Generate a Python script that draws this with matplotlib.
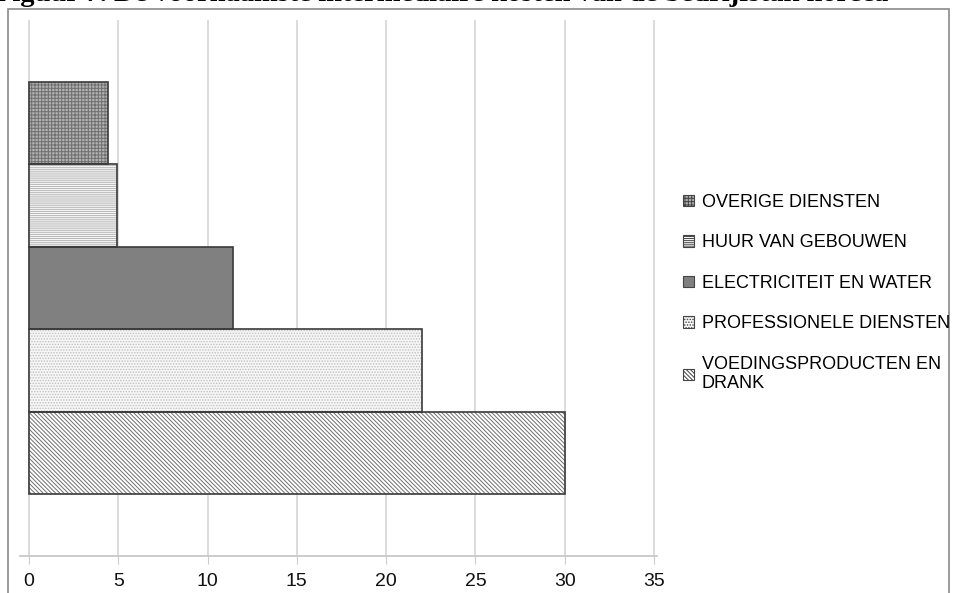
import matplotlib
matplotlib.use("Agg")
import matplotlib.pyplot as plt
from matplotlib.patches import Rectangle, Patch

categories = ["VOEDINGSPRODUCTEN EN\nDRANK", "PROFESSIONELE DIENSTEN",
              "ELECTRICITEIT EN WATER", "HUUR VAN GEBOUWEN", "OVERIGE DIENSTEN"]
values = [30.0, 22.0, 11.4, 4.95, 4.4]
x_ticks = [0, 5, 10, 15, 20, 25, 30, 35]

faces = ["white", "#f6f6f6", "#808080", "#f8f8f8", "#b0b0b0"]
hatches = ["\\" * 8, "." * 6, None, "-" * 8, "+" * 5]
hatch_cols = ["#707070", "#c0c0c0", "#808080", "#b4b4b4", "#707070"]

plt.rcParams["font.family"] = ["Liberation Sans", "DejaVu Sans"]
plt.rcParams["hatch.linewidth"] = 0.7

W, H = 954, 593
fig = plt.figure(figsize=(W / 100, H / 100), dpi=100)
ax = fig.add_axes([20 / W, (H - 556) / H, (657 - 20) / W, (556 - 20) / H])

for i, (v, fc, hc, hcol) in enumerate(zip(values, faces, hatches, hatch_cols)):
    ax.barh(i, v, height=1.0, color=fc, edgecolor=hcol, hatch=hc, linewidth=0, zorder=2)
    ax.barh(i, v, height=1.0, fill=False, edgecolor="#3a3a3a", linewidth=1.2, zorder=3)

ax.set_xlim(-0.5, 35.17)
ax.set_ylim(-1.25, 5.25)
ax.set_xticks(x_ticks)
ax.set_yticks([])
ax.tick_params(axis="x", length=6, color="#cccccc", labelsize=14, pad=6,
               labelcolor="#111111")
ax.grid(axis="x", color="#d6d6d6", linewidth=1.2, zorder=0)
for s in ["top", "right", "left"]:
    ax.spines[s].set_visible(False)
ax.spines["bottom"].set_color("#c4c4c4")
ax.spines["bottom"].set_linewidth(1.2)

handles = [Patch(facecolor=fc, edgecolor="#444444", hatch=hc, linewidth=0.8)
           for fc, hc in zip(faces, hatches)]
fig.legend(handles[::-1], categories[::-1], loc="upper left",
           bbox_to_anchor=(683 / W, 1 - 194 / H), frameon=False,
           fontsize=13, handlelength=0.6, handleheight=0.6,
           handletextpad=0.45, labelspacing=1.3, borderpad=0, borderaxespad=0)

# outer frame
fig.patches.append(Rectangle((8 / W, -0.05), (949 - 8) / W, 1 - 9 / H + 0.05,
                             transform=fig.transFigure, fill=False,
                             edgecolor="#8a8a8a", linewidth=1.2))

fig.text(-0.005, 1 + 5.5 / H, "Figuur 7. De voornaamste intermediaire kosten van de bedrijfstak horeca",
         ha="left", va="center", fontsize=20.5, fontweight="bold",
         family=["Liberation Serif", "DejaVu Serif"])

fig.savefig("out.png", dpi=100)
